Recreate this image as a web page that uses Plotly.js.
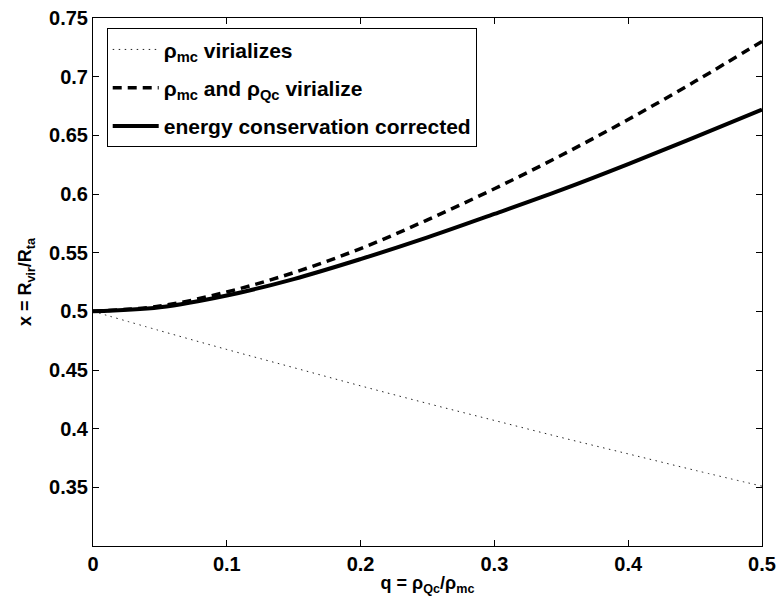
<!DOCTYPE html>
<html>
<head>
<meta charset="utf-8">
<script src="https://cdn.plot.ly/plotly-3.0.1.min.js"></script>
<style>
html, body { margin: 0; padding: 0; background: #fff; }
#chart { width: 778px; height: 598px; }
</style>
</head>
<body>
<div id="chart"></div>
<script>
// q = rho_Qc / rho_mc
var q = [0, 0.05, 0.1, 0.15, 0.2, 0.25, 0.3, 0.35, 0.4, 0.45, 0.5];
// rho_mc virializes (dotted)
var xMatterOnly = [0.5, 0.4835, 0.4675, 0.452, 0.4365, 0.4215, 0.407, 0.3925, 0.3785, 0.3645, 0.351];
// rho_mc and rho_Qc virialize (dashed)
var xBoth = [0.5, 0.5045, 0.5165, 0.533, 0.5535, 0.578, 0.6045, 0.633, 0.6635, 0.696, 0.730];
// energy conservation corrected (solid)
var xCorrected = [0.5, 0.5035, 0.5135, 0.5275, 0.5445, 0.563, 0.583, 0.6035, 0.6255, 0.6485, 0.672];

var seriesNames = [
  "\u03c1<sub>mc</sub> virializes",
  "\u03c1<sub>mc</sub> and \u03c1<sub>Qc</sub> virialize",
  "energy conservation corrected"
];
var xTicks = [0, 0.1, 0.2, 0.3, 0.4, 0.5];
var yTicks = [0.35, 0.4, 0.45, 0.5, 0.55, 0.6, 0.65, 0.7, 0.75];
var yTickText = ["0.35", "0.4", "0.45", "0.5", "0.55", "0.6", "0.65", "0.7", "0.75"];

var FONT = "Liberation Sans, Arial, Helvetica, sans-serif";

var traces = [
  {x: q, y: xMatterOnly, name: seriesNames[0], mode: "lines", legendgroup: "a",
   line: {color: "#222", width: 1, dash: "1.5px,4.5px", shape: "spline"}},
  {x: q, y: xBoth, name: seriesNames[1], mode: "lines", legendgroup: "b",
   line: {color: "#000", width: 3.5, dash: "9px,6px", shape: "spline"}},
  {x: q, y: xCorrected, name: seriesNames[2], mode: "lines", legendgroup: "c",
   line: {color: "#000", width: 4, shape: "spline"}}
];

var axisCommon = {
  showline: true, linecolor: "#000", linewidth: 1, mirror: "ticks",
  ticks: "inside", ticklen: 6, tickcolor: "#000", tickwidth: 1,
  showgrid: false, zeroline: false,
  tickfont: {family: FONT, size: 20, color: "#000", weight: "bold"}
};

var layout = {
  width: 778, height: 598,
  margin: {l: 93, r: 16, t: 18, b: 52},
  paper_bgcolor: "#fff", plot_bgcolor: "#fff",
  font: {family: FONT, color: "#000"},
  showlegend: true,
  legend: {
    x: 0.0205, y: 0.9805, xanchor: "left", yanchor: "top",
    bgcolor: "#fff", bordercolor: "#000", borderwidth: 1,
    font: {family: FONT, size: 21, color: "#000", weight: "bold"},
    traceorder: "grouped", tracegroupgap: 8, itemwidth: 46
  },
  xaxis: Object.assign({}, axisCommon, {
    range: [0, 0.5], tickvals: xTicks,
    title: {text: "q = \u03c1<sub>Qc</sub>/\u03c1<sub>mc</sub>", standoff: 2,
            font: {family: FONT, size: 18, color: "#000", weight: "bold"}}
  }),
  yaxis: Object.assign({}, axisCommon, {
    range: [0.3, 0.75], tickvals: yTicks, ticktext: yTickText,
    title: {text: "x = R<sub>vir</sub>/R<sub>ta</sub>", standoff: 12,
            font: {family: FONT, size: 18, color: "#000", weight: "bold"}}
  })
};

Plotly.newPlot("chart", traces, layout, {displayModeBar: false, staticPlot: true});
</script>
</body>
</html>
